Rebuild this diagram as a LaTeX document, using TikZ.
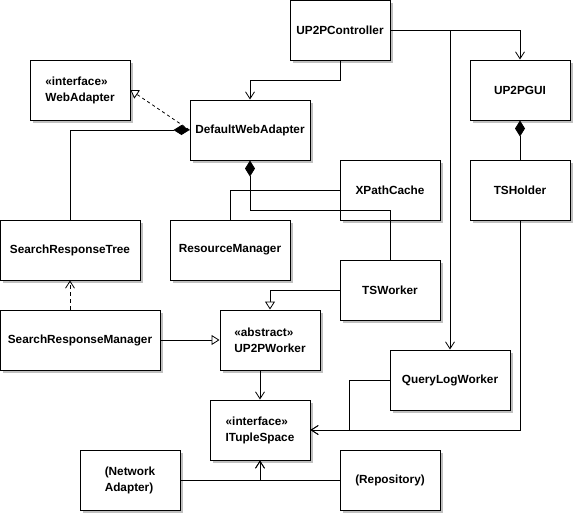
\documentclass[tikz,border=0pt]{standalone}
\usepackage{fontspec}
\setmainfont{Liberation Sans}
\usepackage{tikz}
\usetikzlibrary{arrows.meta, shadows}
\definecolor{UMLShadow}{RGB}{192, 192, 192}
\definecolor{UMLLine}{RGB}{0, 0, 0}

\begin{document}
\begin{tikzpicture}[x=1pt,y=-1pt,
  classbox/.style={draw=UMLLine, fill=white, line width=1pt, align=left,
    minimum height=60pt, inner sep=2pt,
    font=\fontsize{11.8}{16}\selectfont\bfseries,
    drop shadow={shadow xshift=3pt, shadow yshift=-3pt, fill=UMLShadow, opacity=1}},
  assoc/.style={line width=0.8pt, -{Straight Barb[length=7pt,width=9pt]}},
  inherit/.style={line width=0.8pt, -{Triangle[fill=white,length=8pt,width=10pt]}},
  realize/.style={inherit, dash pattern=on 3pt off 3pt},
  depend/.style={assoc, dash pattern=on 4pt off 3pt},
  compose/.style={line width=0.8pt, {Diamond[length=16pt,width=10pt]}-},
  plain/.style={line width=0.8pt}]
  \path[use as bounding box] (0,0) rectangle (575,515);
  \fill[white] (0,0) rectangle (575,515);

  % classes
  \node[classbox, minimum width=100pt] (ctrl) at (340,30) {UP2PController};
  \node[classbox, minimum width=100pt] (webadapter) at (80,90) {«interface»\\WebAdapter};
  \node[classbox, minimum width=120pt] (dwa) at (250,130) {DefaultWebAdapter};
  \node[classbox, minimum width=100pt] (gui) at (520,90) {UP2PGUI};
  \node[classbox, minimum width=100pt] (xpath) at (390,190) {XPathCache};
  \node[classbox, minimum width=100pt] (tsholder) at (520,190) {TSHolder};
  \node[classbox, minimum width=140pt] (srtree) at (70,250) {SearchResponseTree};
  \node[classbox, minimum width=120pt] (resmgr) at (230,250) {ResourceManager};
  \node[classbox, minimum width=100pt] (tsworker) at (390,290) {TSWorker};
  \node[classbox, minimum width=160pt] (srmgr) at (80,340) {SearchResponseManager};
  \node[classbox, minimum width=100pt] (worker) at (270,340) {«abstract»\\UP2PWorker};
  \node[classbox, minimum width=120pt] (qlw) at (450,380) {QueryLogWorker};
  \node[classbox, minimum width=100pt] (tuplespace) at (260,430) {«interface»\\ITupleSpace};
  \node[classbox, minimum width=100pt] (netadapter) at (130,480) {(Network\\Adapter)};
  \node[classbox, minimum width=100pt] (repo) at (390,480) {(Repository)};

  % connectors
  \draw[assoc] (ctrl.south) -- ++(0,20) -| (dwa.north);
  \draw[assoc] (ctrl.east) -| (gui.north);
  \draw[assoc] (ctrl.east) -| (qlw.north);
  \draw[realize] (dwa.west) -- (webadapter.east);
  \draw[compose] (dwa.west) -| (srtree.north);
  \draw[compose] (dwa.south) -- ++(0,50) -| (tsworker.north);
  \draw[plain] (resmgr.north) |- (xpath.west);
  \draw[compose] (gui.south) -- (tsholder.north);
  \draw[inherit] (tsworker.west) -| (worker.north);
  \draw[inherit] (srmgr.east) -- (worker.west);
  \draw[depend] (srmgr.north -| srtree.south) -- (srtree.south);
  \draw[assoc] (worker.south -| tuplespace.north) -- (tuplespace.north);
  \draw[assoc] (netadapter.east) -| (tuplespace.south);
  \draw[assoc] (repo.west) -| (tuplespace.south);
  \draw[assoc] (tsholder.south) |- (tuplespace.east);
  \draw[assoc] (qlw.west) -- ++(-40,0) |- (tuplespace.east);
\end{tikzpicture}
\end{document}
